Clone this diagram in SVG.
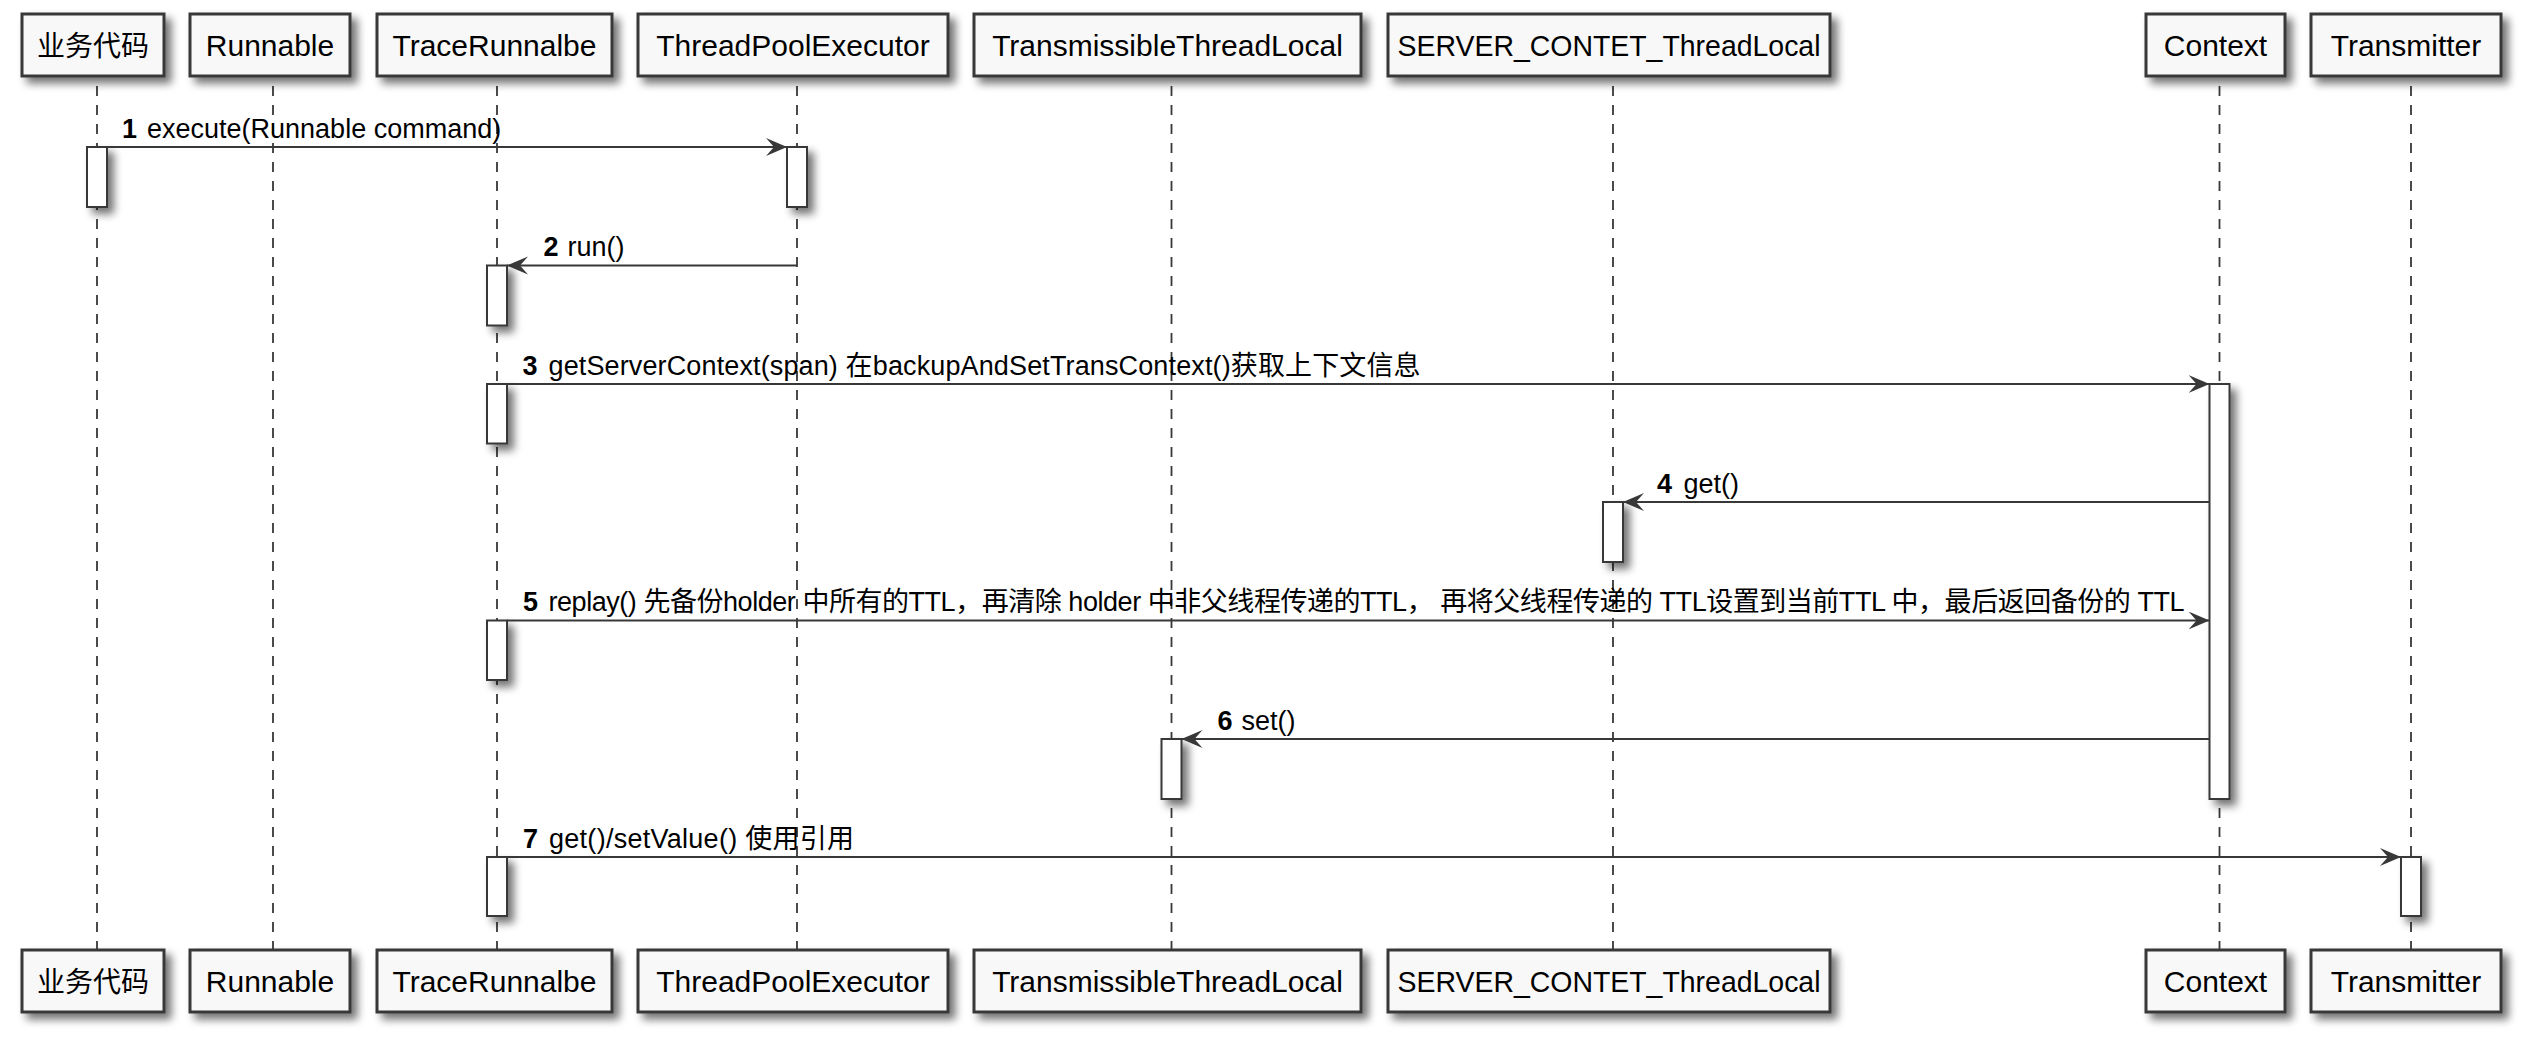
<svg xmlns="http://www.w3.org/2000/svg" width="2546" height="1052" viewBox="0 0 2546 1052">
<defs>
<filter id="sh" x="-100%" y="-50%" width="300%" height="200%">
<feGaussianBlur in="SourceAlpha" stdDeviation="4"/>
<feOffset dx="6" dy="6"/>
<feComponentTransfer><feFuncA type="linear" slope="0.55"/></feComponentTransfer>
<feMerge><feMergeNode/><feMergeNode in="SourceGraphic"/></feMerge>
</filter>
<marker id="ah" markerUnits="userSpaceOnUse" markerWidth="24" markerHeight="20" refX="21" refY="9" orient="auto">
<path d="M0,0 L21,9 L0,18 L8,9 Z" fill="#383838"/>
</marker>
<style>
.pbox{fill:#F8F8F8;stroke:#383838;stroke-width:3;filter:url(#sh)}
.ptxt{font-family:"Liberation Sans","Noto Sans CJK SC",sans-serif;font-size:30px;fill:#000;text-anchor:middle}
.life{stroke:#383838;stroke-width:1.8;stroke-dasharray:10,9}
.act{fill:#fff;stroke:#383838;stroke-width:2;filter:url(#sh)}
.msg{stroke:#383838;stroke-width:2;fill:none;marker-end:url(#ah)}
.mt{font-family:"Liberation Sans","Noto Sans CJK SC",sans-serif;font-size:27px;fill:#000}
.num{font-weight:bold}
</style>
</defs>
<rect width="2546" height="1052" fill="#fff"/>

<g id="p-yewu">
<line class="life" x1="97" y1="86" x2="97" y2="950"/>
<rect class="pbox" x="22" y="14" width="142" height="62"/>
<text class="ptxt" x="93" y="55.5" style="font-size:28px">业务代码</text>
<rect class="pbox" x="22" y="950" width="142" height="62"/>
<text class="ptxt" x="93" y="991.5" style="font-size:28px">业务代码</text>
<rect class="act" x="87" y="147" width="20" height="60"/>
</g>

<g id="p-runnable">
<line class="life" x1="273" y1="86" x2="273" y2="950"/>
<rect class="pbox" x="190" y="14" width="160" height="62"/>
<text class="ptxt" x="270" y="55.5">Runnable</text>
<rect class="pbox" x="190" y="950" width="160" height="62"/>
<text class="ptxt" x="270" y="991.5">Runnable</text>
</g>

<g id="p-trace">
<line class="life" x1="497" y1="86" x2="497" y2="950"/>
<rect class="pbox" x="377" y="14" width="235" height="62"/>
<text class="ptxt" x="494.5" y="55.5">TraceRunnalbe</text>
<rect class="pbox" x="377" y="950" width="235" height="62"/>
<text class="ptxt" x="494.5" y="991.5">TraceRunnalbe</text>
<rect class="act" x="487" y="265.5" width="20" height="60"/>
<rect class="act" x="487" y="384" width="20" height="59.5"/>
<rect class="act" x="487" y="620.5" width="20" height="59.5"/>
<rect class="act" x="487" y="857" width="20" height="59"/>
</g>

<g id="p-tpe">
<line class="life" x1="797" y1="86" x2="797" y2="950"/>
<rect class="pbox" x="638" y="14" width="310" height="62"/>
<text class="ptxt" x="793" y="55.5">ThreadPoolExecutor</text>
<rect class="pbox" x="638" y="950" width="310" height="62"/>
<text class="ptxt" x="793" y="991.5">ThreadPoolExecutor</text>
<rect class="act" x="787" y="147" width="20" height="60"/>
</g>

<g id="p-ttl">
<line class="life" x1="1171.5" y1="86" x2="1171.5" y2="950"/>
<rect class="pbox" x="974" y="14" width="387" height="62"/>
<text class="ptxt" x="1167.5" y="55.5">TransmissibleThreadLocal</text>
<rect class="pbox" x="974" y="950" width="387" height="62"/>
<text class="ptxt" x="1167.5" y="991.5">TransmissibleThreadLocal</text>
<rect class="act" x="1161.5" y="739" width="20" height="60"/>
</g>

<g id="p-server">
<line class="life" x1="1613" y1="86" x2="1613" y2="950"/>
<rect class="pbox" x="1388" y="14" width="442" height="62"/>
<text class="ptxt" x="1609" y="55.5" textLength="423" lengthAdjust="spacingAndGlyphs">SERVER_CONTET_ThreadLocal</text>
<rect class="pbox" x="1388" y="950" width="442" height="62"/>
<text class="ptxt" x="1609" y="991.5" textLength="423" lengthAdjust="spacingAndGlyphs">SERVER_CONTET_ThreadLocal</text>
<rect class="act" x="1603" y="502" width="20" height="60"/>
</g>

<g id="p-context">
<line class="life" x1="2219.5" y1="86" x2="2219.5" y2="950"/>
<rect class="pbox" x="2146" y="14" width="139" height="62"/>
<text class="ptxt" x="2215.5" y="55.5">Context</text>
<rect class="pbox" x="2146" y="950" width="139" height="62"/>
<text class="ptxt" x="2215.5" y="991.5">Context</text>
<rect class="act" x="2209.5" y="384" width="20" height="415"/>
</g>

<g id="p-transmitter">
<line class="life" x1="2411" y1="86" x2="2411" y2="950"/>
<rect class="pbox" x="2311" y="14" width="190" height="62"/>
<text class="ptxt" x="2406" y="55.5">Transmitter</text>
<rect class="pbox" x="2311" y="950" width="190" height="62"/>
<text class="ptxt" x="2406" y="991.5">Transmitter</text>
<rect class="act" x="2401" y="857" width="20" height="59"/>
</g>

<g id="connectors">
<g id="m1">
<line class="msg" x1="107" y1="147" x2="787" y2="147"/>
<text class="mt num" x="122" y="137.5">1</text>
<text class="mt" x="147" y="137.5">execute(Runnable command)</text>
</g>
<g id="m2">
<line class="msg" x1="797" y1="265.5" x2="507" y2="265.5"/>
<text class="mt num" x="543.5" y="256">2</text>
<text class="mt" x="567.5" y="256">run()</text>
</g>
<g id="m3">
<line class="msg" x1="507" y1="384" x2="2209.5" y2="384"/>
<text class="mt num" x="522.5" y="374.5">3</text>
<text class="mt" x="548.5" y="374.5" textLength="872">getServerContext(span) 在backupAndSetTransContext()获取上下文信息</text>
</g>
<g id="m4">
<line class="msg" x1="2209.5" y1="502" x2="1623" y2="502"/>
<text class="mt num" x="1657" y="492.5">4</text>
<text class="mt" x="1683.5" y="492.5">get()</text>
</g>
<g id="m5">
<line class="msg" x1="507" y1="620.5" x2="2209.5" y2="620.5"/>
<text class="mt num" x="523" y="611">5</text>
<text class="mt" x="548.5" y="611" textLength="1636">replay() 先备份holder 中所有的TTL，再清除 holder 中非父线程传递的TTL， 再将父线程传递的 TTL设置到当前TTL 中，最后返回备份的 TTL</text>
</g>
<g id="m6">
<line class="msg" x1="2209.5" y1="739" x2="1181.5" y2="739"/>
<text class="mt num" x="1217.5" y="729.5">6</text>
<text class="mt" x="1241.5" y="729.5">set()</text>
</g>
<g id="m7">
<line class="msg" x1="507" y1="857" x2="2401" y2="857"/>
<text class="mt num" x="523" y="847.5">7</text>
<text class="mt" x="549" y="847.5" textLength="305">get()/setValue() 使用引用</text>
</g>
</g>
</svg>
